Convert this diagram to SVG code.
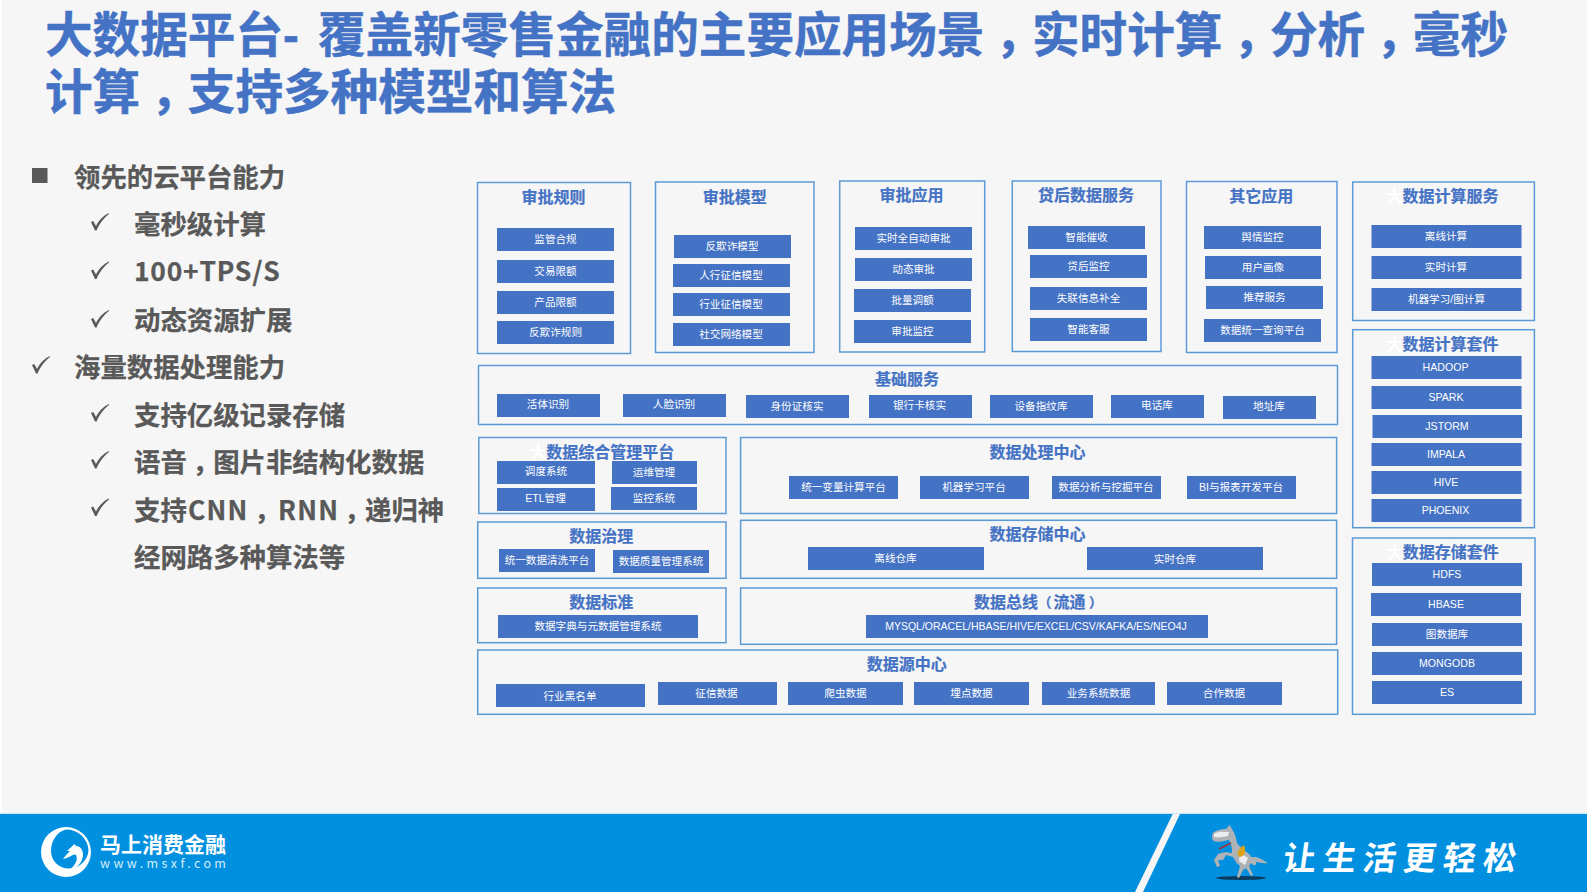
<svg xmlns="http://www.w3.org/2000/svg" xmlns:xlink="http://www.w3.org/1999/xlink" width="1587" height="892" viewBox="0 0 1587 892">
<style>
text{font-family:"Noto Sans CJK SC","Noto Sans",sans-serif;dominant-baseline:central}
.head{font-size:47.6px;font-weight:700;fill:#4472C4;stroke:#4472C4;stroke-width:.5;font-family:"Liberation Sans","Noto Sans CJK SC",sans-serif}
.hc{font-family:"Liberation Sans","Noto Sans CJK TC",sans-serif}
.bul{font-size:26.4px;font-weight:700;fill:#595959;stroke:#595959;stroke-width:.25}
.bc{font-family:"Noto Sans CJK TC",sans-serif}
.box{fill:none;stroke:#5B9BD5;stroke-width:1.5}
.btn{fill:#4472C4}
.t{font-size:16px;font-weight:700;fill:#4472C4;text-anchor:middle;stroke:#4472C4;stroke-width:.2;transform:translateY(-1.5px)}
.s{text-anchor:start}
.p{font-size:13.5px}
.l{font-size:10.6px;fill:#fff;text-anchor:middle;font-family:"Liberation Sans","Noto Sans CJK SC",sans-serif;transform:translateY(-.7px)}
.w{fill:#fff;stroke:#fff}
</style>
<defs>
<path id="chk" fill="#595959" d="M0,9 L2.2,8 L5,13 C8,7 13,2 18,0 L18,1 C13,5 8,11 5.6,17.5 L4,17.5 Z"/>
</defs>
<rect width="1587" height="892" fill="#F6F6F6"/>
<rect width="1.5" height="814" fill="#fff"/>
<g id="title">
<text class="head" x="45" y="35.3">大数据平台- <tspan dx="6">覆盖新零售金融的主要应用场景</tspan><tspan class="hc" dy="14">，</tspan><tspan dy="-14">实时计算</tspan><tspan class="hc" dy="14">，</tspan><tspan dy="-14">分析</tspan><tspan class="hc" dy="14">，</tspan><tspan dy="-14">毫秒</tspan></text>
<text class="head" x="45" y="92.3">计算<tspan class="hc" dy="14">，</tspan><tspan dy="-14">支持多种模型和算法</tspan></text>
</g>
<g id="bullets">
<rect x="32" y="168" width="15.5" height="15" fill="#595959"/>
<text class="bul" x="74" y="175">领先的云平台能力</text>
<use xlink:href="#chk" href="#chk" x="91" y="213"/><text class="bul" x="134" y="222">毫秒级计算</text>
<use xlink:href="#chk" href="#chk" x="91" y="261.5"/><text class="bul" x="134" y="269" letter-spacing=".8">100+TPS/S</text>
<use xlink:href="#chk" href="#chk" x="91" y="310"/><text class="bul" x="134" y="318">动态资源扩展</text>
<use xlink:href="#chk" href="#chk" x="32" y="356"/><text class="bul" x="74" y="365">海量数据处理能力</text>
<use xlink:href="#chk" href="#chk" x="91" y="404"/><text class="bul" x="134" y="413">支持亿级记录存储</text>
<use xlink:href="#chk" href="#chk" x="91" y="451"/><text class="bul" x="134" y="460">语音<tspan class="bc" dy="8">，</tspan><tspan dy="-8">图片非结构化数据</tspan></text>
<use xlink:href="#chk" href="#chk" x="91" y="498.5"/><text class="bul" x="134" y="508">支持<tspan x="188" letter-spacing="1.2">CNN</tspan><tspan class="bc" x="248.5" dy="8">，</tspan><tspan x="278" dy="-8" letter-spacing="1.2">RNN</tspan><tspan class="bc" x="338.5" dy="8">，</tspan><tspan x="365" dy="-8">递归神</tspan></text>
<text class="bul" x="134" y="555.5">经网路多种算法等</text>
</g>

<g id="panel-approval-rules"><rect class="box" x="477.5" y="182.5" width="153" height="171"/><text class="t" x="553.5" y="197.5">审批规则</text>
<rect class="btn" x="497" y="228" width="117" height="23"/><text class="l" x="555.5" y="239.5">监管合规</text>
<rect class="btn" x="497" y="260" width="117" height="23"/><text class="l" x="555.5" y="271.5">交易限额</text>
<rect class="btn" x="497" y="291" width="117" height="23"/><text class="l" x="555.5" y="302.5">产品限额</text>
<rect class="btn" x="497" y="321" width="117" height="23"/><text class="l" x="555.5" y="332.5">反欺诈规则</text></g>

<g id="panel-approval-models"><rect class="box" x="655.5" y="182" width="158.5" height="170.5"/><text class="t" x="734.7" y="197">审批模型</text>
<rect class="btn" x="674" y="235" width="117" height="23"/><text class="l" x="732" y="246.5">反欺诈模型</text>
<rect class="btn" x="673" y="264" width="117" height="23"/><text class="l" x="731" y="275.5">人行征信模型</text>
<rect class="btn" x="673" y="293" width="117" height="23"/><text class="l" x="731" y="304.5">行业征信模型</text>
<rect class="btn" x="673" y="323" width="117" height="23"/><text class="l" x="731" y="334.5">社交网络模型</text></g>

<g id="panel-approval-apps"><rect class="box" x="839.7" y="181" width="145" height="171"/><text class="t" x="911.4" y="195.5">审批应用</text>
<rect class="btn" x="855" y="227" width="117" height="23"/><text class="l" x="913.5" y="238.5">实时全自动审批</text>
<rect class="btn" x="855" y="258" width="117" height="23"/><text class="l" x="913.5" y="269.5">动态审批</text>
<rect class="btn" x="854" y="289" width="117" height="23"/><text class="l" x="912.5" y="301">批量调额</text>
<rect class="btn" x="854" y="320" width="117" height="23"/><text class="l" x="912.5" y="331.5">审批监控</text></g>

<g id="panel-postloan"><rect class="box" x="1012.3" y="181" width="148.7" height="170.5"/><text class="t" x="1086" y="195">贷后数据服务</text>
<rect class="btn" x="1028" y="226" width="117" height="23"/><text class="l" x="1086.5" y="237.5">智能催收</text>
<rect class="btn" x="1030" y="255" width="117" height="23"/><text class="l" x="1088.5" y="266.5">贷后监控</text>
<rect class="btn" x="1030" y="287" width="117" height="23"/><text class="l" x="1088.5" y="298.5">失联信息补全</text>
<rect class="btn" x="1030" y="318" width="117" height="23"/><text class="l" x="1088.5" y="329.5">智能客服</text></g>

<g id="panel-other-apps"><rect class="box" x="1186.5" y="181.5" width="150.5" height="171"/><text class="t" x="1261.3" y="196.5">其它应用</text>
<rect class="btn" x="1204" y="226" width="117" height="23"/><text class="l" x="1262.5" y="237.5">舆情监控</text>
<rect class="btn" x="1205" y="256" width="116" height="23"/><text class="l" x="1263" y="267.5">用户画像</text>
<rect class="btn" x="1206" y="286" width="117" height="23"/><text class="l" x="1264.5" y="297.5">推荐服务</text>
<rect class="btn" x="1204" y="319" width="117" height="23"/><text class="l" x="1262.5" y="330.5">数据统一查询平台</text></g>

<g id="panel-compute-services"><rect class="box" x="1352.7" y="182" width="181.7" height="138.5"/><text class="t" x="1442.6" y="196.5"><tspan class="w">大</tspan>数据计算服务</text>
<rect class="btn" x="1371.5" y="225" width="150" height="23"/><text class="l" x="1446" y="236.5">离线计算</text>
<rect class="btn" x="1371.5" y="256" width="150" height="23"/><text class="l" x="1446" y="268">实时计算</text>
<rect class="btn" x="1371.5" y="288" width="150" height="23"/><text class="l" x="1446.5" y="299.5">机器学习/图计算</text></g>

<g id="panel-compute-suite"><rect class="box" x="1352.7" y="329.7" width="181.7" height="198"/><text class="t" x="1442.6" y="344.5"><tspan class="w">大</tspan>数据计算套件</text>
<rect class="btn" x="1371.5" y="356" width="150" height="23"/><text class="l" x="1445.5" y="368">HADOOP</text>
<rect class="btn" x="1371.5" y="386" width="150" height="23"/><text class="l" x="1446" y="398">SPARK</text>
<rect class="btn" x="1372.5" y="415" width="149.5" height="23"/><text class="l" x="1447" y="426.5">JSTORM</text>
<rect class="btn" x="1371.5" y="443" width="150" height="23"/><text class="l" x="1446" y="455">IMPALA</text>
<rect class="btn" x="1371.5" y="471" width="150" height="23"/><text class="l" x="1446" y="483">HIVE</text>
<rect class="btn" x="1371.5" y="499" width="150" height="23"/><text class="l" x="1445.5" y="510.5">PHOENIX</text></g>

<g id="panel-storage-suite"><rect class="box" x="1352.5" y="538" width="182.5" height="176.3"/><text class="t" x="1442.7" y="552.7"><tspan class="w">大</tspan>数据存储套件</text>
<rect class="btn" x="1372" y="563" width="150" height="23"/><text class="l" x="1447" y="575">HDFS</text>
<rect class="btn" x="1371" y="593" width="150" height="23"/><text class="l" x="1446" y="605">HBASE</text>
<rect class="btn" x="1372" y="623" width="150" height="23"/><text class="l" x="1447" y="634.5">图数据库</text>
<rect class="btn" x="1372" y="652" width="150" height="23"/><text class="l" x="1447" y="664">MONGODB</text>
<rect class="btn" x="1372" y="681" width="150" height="23"/><text class="l" x="1447" y="693">ES</text></g>

<g id="panel-base-services"><rect class="box" x="478.5" y="365.5" width="859" height="59"/><text class="t" x="907" y="379">基础服务</text>
<rect class="btn" x="497" y="394" width="103" height="23"/><text class="l" x="548" y="405">活体识别</text>
<rect class="btn" x="623" y="394" width="103" height="23"/><text class="l" x="674" y="405">人脸识别</text>
<rect class="btn" x="746" y="395" width="103" height="23"/><text class="l" x="797" y="406.5">身份证核实</text>
<rect class="btn" x="869" y="395" width="103" height="23"/><text class="l" x="919.5" y="406">银行卡核实</text>
<rect class="btn" x="990" y="395" width="103" height="23"/><text class="l" x="1041" y="407">设备指纹库</text>
<rect class="btn" x="1111" y="395" width="93" height="23"/><text class="l" x="1157" y="406">电话库</text>
<rect class="btn" x="1223" y="396" width="93" height="23"/><text class="l" x="1269" y="407">地址库</text></g>

<g id="panel-data-mgmt"><rect class="box" x="478.8" y="437.5" width="247.2" height="76"/><text class="t" x="602.3" y="452.5"><tspan class="w">大</tspan>数据综合管理平台</text>
<rect class="btn" x="497" y="461" width="98" height="23"/><text class="l" x="546" y="472">调度系统</text>
<rect class="btn" x="612" y="461" width="85" height="23"/><text class="l" x="654" y="473">运维管理</text>
<rect class="btn" x="497" y="488" width="98" height="23"/><text class="l" x="545.5" y="499">ETL管理</text>
<rect class="btn" x="611" y="487" width="86" height="23"/><text class="l" x="654" y="499">监控系统</text></g>

<g id="panel-processing"><rect class="box" x="740.6" y="437.5" width="596" height="76"/><text class="t" x="1037.4" y="452.7">数据处理中心</text>
<rect class="btn" x="789" y="476" width="109" height="23"/><text class="l" x="843.5" y="487.5">统一变量计算平台</text>
<rect class="btn" x="920" y="476" width="109" height="23"/><text class="l" x="974" y="487.5">机器学习平台</text>
<rect class="btn" x="1052" y="476" width="109" height="23"/><text class="l" x="1106" y="488">数据分析与挖掘平台</text>
<rect class="btn" x="1187" y="476" width="109" height="23"/><text class="l" x="1241" y="487.5">BI与报表开发平台</text></g>

<g id="panel-governance"><rect class="box" x="477.7" y="522" width="248.3" height="56.3"/><text class="t" x="601.3" y="536.3">数据治理</text>
<rect class="btn" x="499" y="549" width="96" height="23"/><text class="l" x="547" y="561">统一数据清洗平台</text>
<rect class="btn" x="613" y="550" width="96" height="23"/><text class="l" x="661" y="561.5">数据质量管理系统</text></g>

<g id="panel-storage"><rect class="box" x="740.6" y="520.3" width="596" height="58"/><text class="t" x="1037.4" y="534.3">数据存储中心</text>
<rect class="btn" x="808" y="547" width="176" height="23"/><text class="l" x="895.5" y="559">离线仓库</text>
<rect class="btn" x="1087" y="547" width="176" height="23"/><text class="l" x="1175" y="559.5">实时仓库</text></g>

<g id="panel-standards"><rect class="box" x="477.7" y="588" width="248.3" height="54.7"/><text class="t" x="601.3" y="602.3">数据标准</text>
<rect class="btn" x="498" y="615" width="200" height="23"/><text class="l" x="598" y="627">数据字典与元数据管理系统</text></g>

<g id="panel-bus"><rect class="box" x="740.6" y="588" width="596" height="56.3"/><text class="t s" x="974" y="602.3">数据总线<tspan class="p" x="1038">（</tspan><tspan x="1053.5">流通</tspan><tspan class="p" x="1089">）</tspan></text>
<rect class="btn" x="866" y="615" width="342" height="23"/><text class="l" x="1036" y="627" style="font-size:10.5px">MYSQL/ORACEL/HBASE/HIVE/EXCEL/CSV/KAFKA/ES/NEO4J</text></g>

<g id="panel-sources"><rect class="box" x="477.7" y="650" width="860" height="64.3"/><text class="t" x="906.7" y="664.3">数据源中心</text>
<rect class="btn" x="496" y="684" width="149" height="23"/><text class="l" x="570" y="696.5">行业黑名单</text>
<rect class="btn" x="658" y="682" width="119" height="23"/><text class="l" x="716.5" y="693.5">征信数据</text>
<rect class="btn" x="788" y="682" width="115" height="23"/><text class="l" x="845.5" y="693.5">爬虫数据</text>
<rect class="btn" x="914" y="682" width="115" height="23"/><text class="l" x="971.5" y="693.5">埋点数据</text>
<rect class="btn" x="1042" y="682" width="113" height="23"/><text class="l" x="1098.5" y="693.5">业务系统数据</text>
<rect class="btn" x="1167" y="682" width="115" height="23"/><text class="l" x="1224" y="693.5">合作数据</text></g>

<g id="footer">
<rect x="0" y="813" width="1587" height="1" fill="#CFE6F6"/>
<rect x="0" y="814" width="1587" height="78" fill="#0090DF"/>
<polygon points="1172.7,814 1180,814 1143,892 1135,892" fill="#F6F6F6"/>
<g id="logo">
<path fill="#fff" fill-rule="evenodd" d="M66,827 A25,25 0 1 0 66,877 A25,25 0 0 0 91,852 A25,25 0 0 0 66,827 Z M66,829.5 A22,22 0 0 1 88.5,850 C88,860 80,868 70,868.5 C58,869 51,860 51,851 C51,840 58,831 66,829.5 Z"/>
<path fill="#fff" d="M63,859 C66,855 68,853 70,851 L67,851 L74.5,844 L76,846 C81,846 85,852 82,860 C80,865 75,869 70,869 C76,865 78,859 76,855 C74,853 71,857 63,859 Z"/>
</g>
<text x="100" y="844" font-size="21" font-weight="700" fill="#fff" style="font-family:'Liberation Sans','Noto Sans CJK SC',sans-serif">马上消费金融</text>
<text x="100" y="862.5" font-size="12.5" letter-spacing="3.4" fill="#D6ECFA" font-family="Liberation Sans,sans-serif">www.msxf.com</text>
<g id="horse">
<ellipse cx="1241" cy="878" rx="25" ry="2" fill="#0B3A5C"/>
<path fill="#AEB1B5" d="M1212,836 C1212,831 1220,829 1226,829 L1229.5,825 L1232,829 C1235,833 1236,838 1237,843 L1243,850 C1247,852 1250,854 1251,857 L1256,857 C1260,858 1263,860 1268,863 C1262,864 1259,862 1256,862 C1257,866 1253,866 1251,863 L1249,866 L1253,875 L1251,876 L1246,868 L1243,870 L1239,878 L1237,877 L1240,866 C1237,864 1235,860 1233,857 L1226,855 L1223,860 L1218,860 L1220,866 L1217,867 L1214,860 L1218,854 L1225,852 L1232,853 C1232,847 1231,844 1229,840 C1224,841 1217,843 1214,841 C1212,840 1212,838 1212,836 Z"/>
<path fill="#ECEDEE" d="M1214,834 C1218,831 1224,832 1229,832 L1228,836 C1223,837 1217,838 1214,837 Z M1240,853 L1248,858 L1245,865 L1239,861 Z"/>
<path stroke="#A5333A" stroke-width="1.6" fill="none" d="M1219,849 L1231,843"/>
<path fill="#D9A21B" d="M1239,850 C1240,847 1243,846 1244,845 L1245,849 C1246,853 1243,857 1240,857 C1237,856 1237,852 1239,850 Z"/>
</g>
<text x="1284" y="856" font-size="33" font-weight="700" letter-spacing="7" fill="#fff" transform="translate(1284 0) skewX(-8) translate(-1284 0) translate(120 0)">让生活更轻松</text>
</g>
</svg>
